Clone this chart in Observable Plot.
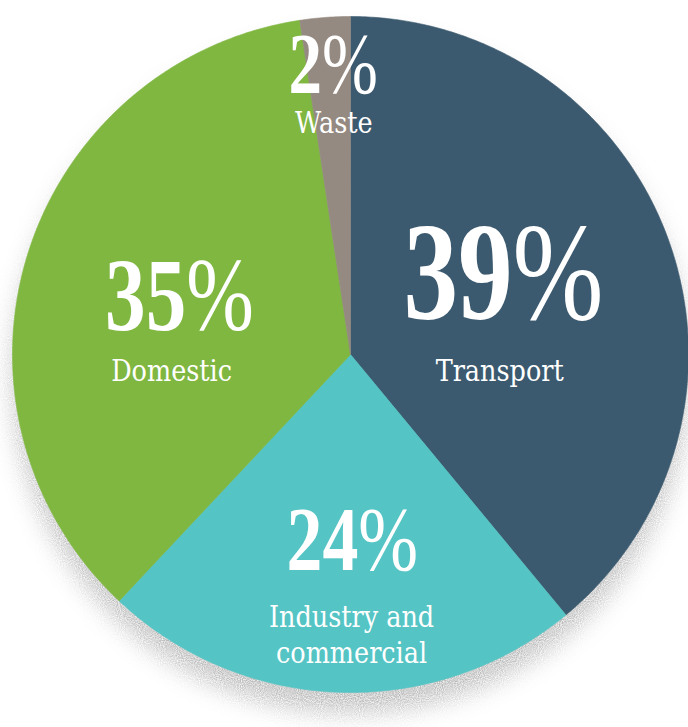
<!DOCTYPE html>
<html>
<head>
<meta charset="utf-8">
<script src="https://cdn.jsdelivr.net/npm/d3@7"></script>
<script src="https://cdn.jsdelivr.net/npm/@observablehq/plot@0.6"></script>
<style>
  html, body { margin: 0; padding: 0; background: #fff; }
  #chart svg { display: block; }
</style>
</head>
<body>
<div id="chart"></div>
<script>
// ---- data ----
const categories = ["Transport", "Industry and\ncommercial", "Domestic", "Waste"];
const values = [39, 23, 35.6, 2.4];           // slice sizes as drawn
const pctLabels = ["39%", "24%", "35%", "2%"]; // printed labels
const colors = ["#3c5a6f", "#54c4c4", "#7fb741", "#958a81"];

// ---- layout (polar placement of text: angle in degrees clockwise from top, radius fraction, font size) ----
const numLayout = [[76.8, 0.465, 140], [179.5, 0.639, 92], [278.0, 0.511, 104], [356.2, 0.774, 86]];
const labLayout = [[99.9, 0.448], [179.8, 0.914], [261.7, 0.535], [355.7, 0.656]];

const table = categories.map((c, i) => ({cat: c, value: values[i], pct: pctLabels[i], i}));
const arcs = d3.pie().sort(null).value(d => d.value)(table);

// polygon points for each slice
const slicePts = [];
for (const a of arcs) {
  const cat = a.data.cat;
  slicePts.push({cat, x: 0, y: 0});
  const n = Math.max(2, Math.ceil((a.endAngle - a.startAngle) / (Math.PI / 360)));
  for (let k = 0; k <= n; k++) {
    const t = a.startAngle + (a.endAngle - a.startAngle) * k / n;
    slicePts.push({cat, x: Math.sin(t), y: Math.cos(t)});
  }
  slicePts.push({cat, x: 0, y: 0});
}

const polar = (deg, r) => { const t = deg * Math.PI / 180; return [r * Math.sin(t), r * Math.cos(t)]; };
const numText = table.map((d, i) => {
  const [x, y] = polar(numLayout[i][0], numLayout[i][1]);
  return {x, y, text: d.pct, size: numLayout[i][2]};
});
const labText = table.map((d, i) => {
  const [x, y] = polar(labLayout[i][0], labLayout[i][1]);
  return {x, y, text: d.cat};
});

const chart = Plot.plot({
  width: 688,
  height: 727,
  margin: 0,
  style: {background: "#fff"},
  x: {domain: [-1, 1], range: [12, 688], axis: null},
  y: {domain: [-1, 1], range: [692, 16], axis: null},
  color: {domain: categories, range: colors},
  marks: [
    Plot.line(slicePts, {x: "x", y: "y", z: "cat", fill: "#8a8a8a", stroke: "#8a8a8a", strokeWidth: 1, dy: 20}),
    Plot.line(slicePts, {x: "x", y: "y", z: "cat", fill: "cat", stroke: "cat", strokeWidth: 0.6}),
    Plot.text(numText, {x: "x", y: "y", text: "text", fontSize: "size", fill: "white", lineAnchor: "bottom", textAnchor: "middle",
      fontFamily: "'Liberation Serif', 'DejaVu Serif', serif", fontWeight: "bold"}),
    Plot.text(labText, {x: "x", y: "y", text: "text", fontSize: 29, fill: "white", lineAnchor: "bottom", textAnchor: "middle", lineHeight: 1.24,
      fontFamily: "'DejaVu Serif', serif"})
  ]
});

document.getElementById("chart").appendChild(chart);

const svg = d3.select(chart);

// grainy blurred shadow filter
const defs = svg.insert("defs", ":first-child");
const f = defs.append("filter").attr("id", "pieShadow")
  .attr("x", "-20%").attr("y", "-20%").attr("width", "140%").attr("height", "140%");
f.append("feGaussianBlur").attr("in", "SourceGraphic").attr("stdDeviation", 12).attr("result", "b");
f.append("feTurbulence").attr("type", "fractalNoise").attr("baseFrequency", 0.95).attr("numOctaves", 1).attr("seed", 4).attr("result", "n");
f.append("feColorMatrix").attr("in", "n").attr("type", "matrix")
  .attr("values", "0 0 0 0 0  0 0 0 0 0  0 0 0 0 0  0 0 0 1.6 -0.2").attr("result", "na");
f.append("feComposite").attr("in", "b").attr("in2", "na").attr("operator", "in");

const lineGroups = svg.selectAll('g[aria-label="line"]').nodes();
if (lineGroups.length) d3.select(lineGroups[0]).attr("filter", "url(#pieShadow)").attr("opacity", 0.7);

// condense text horizontally around its anchor
function condense(sel, sx) {
  sel.each(function () {
    const el = d3.select(this);
    let tr = el.attr("transform");
    if (!tr) {
      const x = +el.attr("x") || 0, y = +el.attr("y") || 0;
      el.attr("x", null).attr("y", null);
      tr = `translate(${x},${y})`;
    }
    el.attr("transform", `${tr} scale(${sx},1)`);
  });
}
const textGroups = svg.selectAll('g[aria-label="text"]').nodes();
const pctSel = d3.select(textGroups[0]).selectAll("text");
const labSel = d3.select(textGroups[1]).selectAll("text");
pctSel.each(function () {
  const s = this.textContent;
  const digits = s.replace("%", "");
  const el = d3.select(this);
  el.text(null);
  el.append("tspan").attr("font-weight", "bold").text(digits);
  el.append("tspan").attr("font-weight", "normal").text("%");
});
condense(pctSel, 0.78);
condense(labSel, 0.88);
</script>
</body>
</html>
